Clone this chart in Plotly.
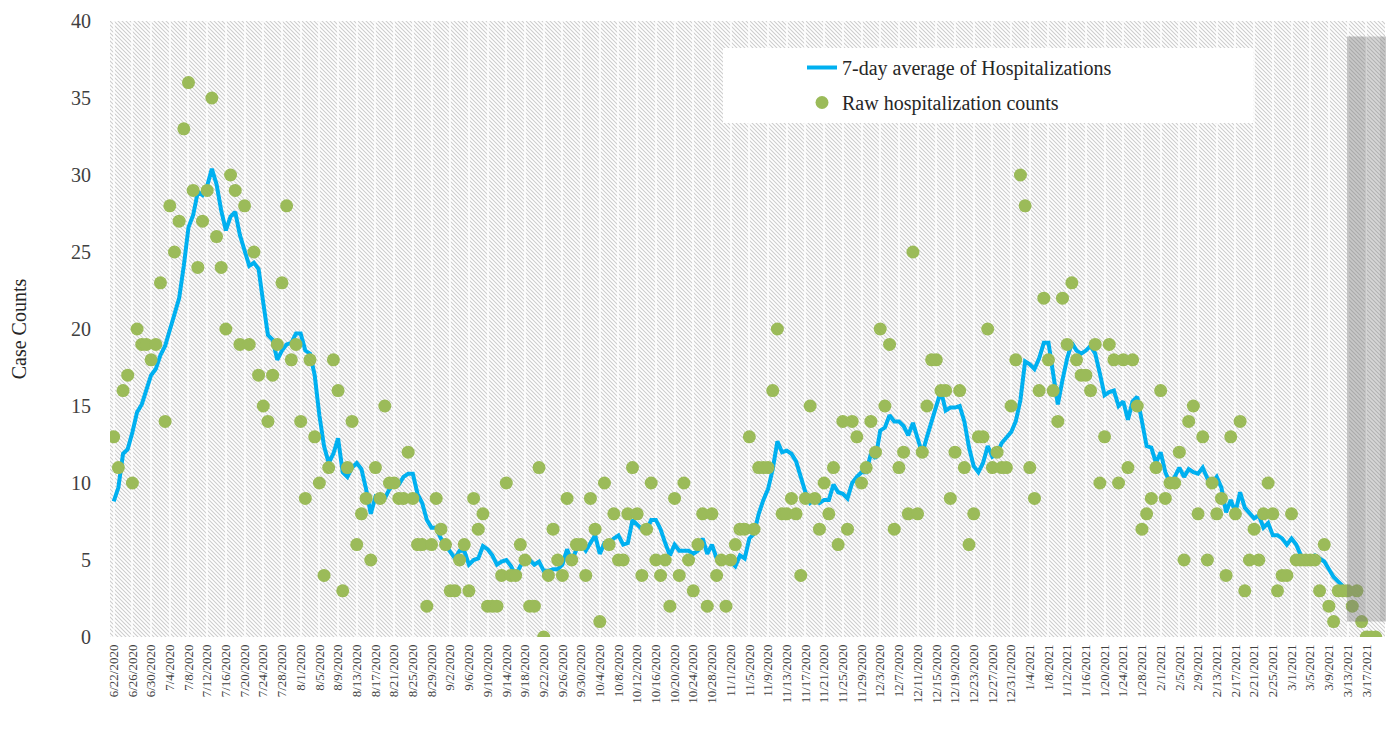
import base64
import pandas as pd
import plotly.graph_objects as go

# ---------------- data ----------------
start_date = "2020-06-22"

raw_counts = [
    13, 11, 16, 17, 10, 20, 19, 19, 18, 19,   # 0-9
    23, 14, 28, 25, 27, 33, 36, 29, 24, 27,   # 10-19
    29, 35, 26, 24, 20, 30, 29, 19, 28, 19,   # 20-29
    25, 17, 15, 14, 17, 19, 23, 28, 18, 19,   # 30-39
    14, 9, 18, 13, 10, 4, 11, 18, 16, 3,      # 40-49
    11, 14, 6, 8, 9, 5, 11, 9, 15, 10,        # 50-59
    10, 9, 9, 12, 9, 6, 6, 2, 6, 9,           # 60-69
    7, 6, 3, 3, 5, 6, 3, 9, 7, 8,             # 70-79
    2, 2, 2, 4, 10, 4, 4, 6, 5, 2,            # 80-89
    2, 11, 0, 4, 7, 5, 4, 9, 5, 6,            # 90-99
    6, 4, 9, 7, 1, 10, 6, 8, 5, 5,            # 100-109
    8, 11, 8, 4, 7, 10, 5, 4, 5, 2,           # 110-119
    9, 4, 10, 5, 3, 6, 8, 2, 8, 4,            # 120-129
    5, 2, 5, 6, 7, 7, 13, 7, 11, 11,          # 130-139
    11, 16, 20, 8, 8, 9, 8, 4, 9, 15,         # 140-149
    9, 7, 10, 8, 11, 6, 14, 7, 14, 13,        # 150-159
    10, 11, 14, 12, 20, 15, 19, 7, 11, 12,    # 160-169
    8, 25, 8, 12, 15, 18, 18, 16, 16, 9,      # 170-179
    12, 16, 11, 6, 8, 13, 13, 20, 11, 12,     # 180-189
    11, 11, 15, 18, 30, 28, 11, 9, 16, 22,    # 190-199
    18, 16, 14, 22, 19, 23, 18, 17, 17, 16,   # 200-209
    19, 10, 13, 19, 18, 10, 18, 11, 18, 15,   # 210-219
    7, 8, 9, 11, 16, 9, 10, 10, 12, 5,        # 220-229
    14, 15, 8, 13, 5, 10, 8, 9, 4, 13,        # 230-239
    8, 14, 3, 5, 7, 5, 8, 10, 8, 3,           # 240-249
    4, 4, 8, 5, 5, 5, 5, 5, 3, 6,             # 250-259
    2, 1, 3, 3, 3, 2, 3, 1, 0, 0, 0,          # 260-270
]

avg_7day = [
    8.8, 9.7, 11.9, 12.2, 13.3, 14.6, 15.1, 16.0, 17.0, 17.4,
    18.3, 18.9, 20.0, 20.9, 22.0, 24.1, 26.6, 27.4, 28.9, 28.7,
    29.3, 30.4, 29.4, 27.7, 26.4, 27.3, 27.6, 26.1, 25.1, 24.1,
    24.3, 23.9, 21.7, 19.6, 19.3, 18.0, 18.6, 19.0, 19.1, 19.7,
    19.7, 18.6, 18.4, 17.0, 14.4, 12.4, 11.3, 11.9, 12.9, 10.7,
    10.4, 11.0, 11.3, 10.9, 9.6, 8.0, 9.1, 8.9, 9.0, 9.6,
    9.9, 9.9, 10.4, 10.6, 10.6, 9.3, 8.7, 7.6, 7.1, 7.1,
    6.4, 6.0, 5.6, 5.1, 5.6, 5.6, 4.7, 5.0, 5.1, 5.9,
    5.7, 5.3, 4.7, 4.9, 5.0, 4.6, 4.0, 4.6, 5.0, 5.0,
    4.7, 4.9, 4.3, 4.3, 4.4, 4.4, 4.7, 5.7, 4.9, 5.7,
    6.0, 5.6, 6.1, 6.6, 5.4, 6.1, 6.1, 6.4, 6.6, 6.0,
    6.1, 7.6, 7.3, 7.0, 6.9, 7.6, 7.6, 7.0, 6.1, 5.3,
    6.0, 5.6, 5.6, 5.6, 5.4, 5.6, 6.4, 5.4, 6.0, 5.1,
    5.1, 5.0, 4.9, 4.6, 5.3, 5.1, 6.4, 6.7, 8.0, 8.9,
    9.6, 10.9, 12.7, 12.0, 12.1, 11.9, 11.4, 10.4, 9.4, 8.7,
    8.9, 8.7, 8.9, 8.9, 9.9, 9.4, 9.3, 9.0, 10.0, 10.4,
    10.7, 10.7, 11.9, 11.6, 13.4, 13.6, 14.4, 14.0, 14.0, 13.7,
    13.1, 13.9, 12.9, 11.9, 13.0, 14.0, 14.9, 16.0, 14.7, 14.9,
    14.9, 15.0, 14.0, 12.3, 11.1, 10.7, 11.3, 12.4, 11.7, 11.9,
    12.6, 13.0, 13.3, 14.0, 15.4, 17.9, 17.7, 17.4, 18.1, 19.1,
    19.1, 17.1, 15.1, 16.7, 18.1, 19.1, 18.6, 18.4, 18.6, 18.9,
    18.4, 17.1, 15.7, 15.9, 16.0, 15.0, 15.3, 14.1, 15.3, 15.6,
    13.9, 12.4, 12.3, 11.3, 12.0, 10.7, 10.0, 10.4, 11.0, 10.4,
    10.9, 10.7, 10.6, 11.0, 10.3, 10.0, 10.4, 9.7, 8.1, 8.9,
    8.1, 9.4, 8.4, 8.0, 7.7, 7.9, 7.1, 7.4, 6.6, 6.6,
    6.4, 6.0, 6.4, 6.0, 5.3, 4.9, 5.1, 5.3, 5.1, 4.9,
    4.4, 3.9, 3.6, 3.3,
]

tick_step_days = 4
last_tick_date = "2021-03-17"
y_ticks = [0, 5, 10, 15, 20, 25, 30, 35, 40]

series_names = ["7-day average of Hospitalizations", "Raw hospitalization counts"]
y_title = "Case Counts"

# ---------------- build ----------------
dates = pd.date_range(start_date, periods=len(raw_counts), freq="D")
avg_full = avg_7day + [None] * (len(raw_counts) - len(avg_7day))

tick_dates = [d for d in dates[::tick_step_days] if d <= pd.Timestamp(last_tick_date)]
tick_text = [f"{d.month}/{d.day}/{d.year}" for d in tick_dates]

FONT = "Liberation Serif"

# page body has an 8px margin, so the figure is sized to fit inside the window
FIG_W, FIG_H = 1390, 726
M_L, M_R, M_T, M_B = 102, 13, 13, 97
PW, PH = FIG_W - M_L - M_R, FIG_H - M_T - M_B

# hatched background as an inline SVG image (decoration only)
svg = f"""<svg xmlns='http://www.w3.org/2000/svg' width='{PW}' height='{PH}' viewBox='0 0 {PW} {PH}'>
<defs><pattern id='p' patternUnits='userSpaceOnUse' width='4' height='4'>
<rect width='4' height='4' fill='#ffffff'/>
<path d='M-1,-1 L5,5 M-1,3 L1,5 M3,-1 L5,1' stroke='#cdcdcd' stroke-width='1.05'/>
</pattern></defs>
<rect width='{PW}' height='{PH}' fill='url(#p)'/>
</svg>"""
svg_uri = "data:image/svg+xml;base64," + base64.b64encode(svg.encode()).decode()

fig = go.Figure()
fig.add_trace(go.Scatter(
    x=dates, y=avg_full, mode="lines", name=series_names[0],
    legendgroup="a",
    line=dict(color="#00B0F0", width=4),
))
fig.add_trace(go.Scatter(
    x=dates, y=raw_counts, mode="markers", name=series_names[1],
    legendgroup="b",
    marker=dict(color="#9BBB59", size=13),
))

x_start = dates[0] - pd.Timedelta(hours=19)
x_end = dates[0] + pd.Timedelta(days=272)


def px_x(px):
    return (px - 8 - M_L) / PW


def px_y(py):
    return 1 - (py - 8 - M_T) / PH


fig.update_layout(
    width=FIG_W, height=FIG_H,
    margin=dict(l=M_L, r=M_R, t=M_T, b=M_B, autoexpand=False),
    paper_bgcolor="white",
    plot_bgcolor="rgba(0,0,0,0)",
    font=dict(family=FONT, color="#404040"),
    showlegend=True,
    legend=dict(
        x=px_x(802), y=px_y(48), xanchor="left", yanchor="top",
        bgcolor="rgba(0,0,0,0)",
        font=dict(family=FONT, size=20, color="#262626"),
        tracegroupgap=6,
        itemwidth=30,
    ),
    images=[dict(
        source=svg_uri, xref="paper", yref="paper",
        x=0, y=1, sizex=1, sizey=1, sizing="stretch",
        xanchor="left", yanchor="top", layer="below",
    )],
    shapes=[
        # legend box
        dict(type="rect", xref="paper", yref="paper",
             x0=px_x(723), x1=px_x(1253), y0=px_y(123), y1=px_y(48),
             fillcolor="white", line=dict(width=0), layer="above"),
        # grey shaded band at the right
        dict(type="rect", xref="paper", yref="y",
             x0=px_x(1347), x1=px_x(1386), y0=1.0, y1=39.0,
             fillcolor="rgba(120,120,120,0.30)", line=dict(width=0), layer="above"),
        dict(type="rect", xref="paper", yref="y",
             x0=px_x(1347), x1=px_x(1366), y0=1.0, y1=39.0,
             fillcolor="rgba(120,120,120,0.15)", line=dict(width=0), layer="above"),
        dict(type="rect", xref="paper", yref="y",
             x0=px_x(1380), x1=px_x(1386), y0=1.0, y1=39.0,
             fillcolor="rgba(120,120,120,0.15)", line=dict(width=0), layer="above"),
    ],
)

fig.update_xaxes(
    type="date",
    range=[x_start, x_end],
    tickvals=tick_dates, ticktext=tick_text,
    tickangle=-90,
    tickfont=dict(family=FONT, size=13, color="#404040"),
    showgrid=True, gridcolor="rgba(255,255,255,0.75)", gridwidth=2,
    showline=False, zeroline=False, ticks="",
    ticklabelstandoff=4,
    automargin=False,
)
fig.update_yaxes(
    range=[0, 40.0001],
    tickvals=y_ticks,
    tickfont=dict(family=FONT, size=20, color="#404040"),
    showgrid=False, zeroline=False, showline=False, ticks="",
    ticklabelstandoff=18,
    ticklabeloverflow="allow",
    automargin=False,
    title=dict(text=y_title, font=dict(family=FONT, size=20, color="#262626"), standoff=40),
)

fig.write_html("out.html")
